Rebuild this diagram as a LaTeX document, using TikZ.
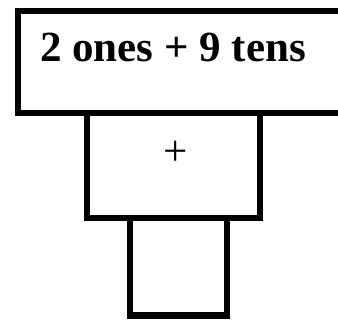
\documentclass[tikz,border=0pt]{standalone}
\usepackage{fontspec}
\setmainfont{Liberation Serif}
\begin{document}
\begin{tikzpicture}[x=1pt,y=1pt,
  boxline/.style={draw=black,line width=6.5pt,fill=white},
  lbl/.style={inner sep=0pt,font=\fontsize{43}{50}\selectfont}]
\useasboundingbox (0,0) rectangle (338,320);
\clip (0,0) rectangle (338,320);
\draw[boxline] (18,{320-113}) rectangle (350,{320-11});
\draw[boxline] (87,{320-218}) rectangle (260,{320-113});
\draw[boxline] (130,{320-315.5}) rectangle (227,{320-218});
\node[lbl,anchor=base west,font=\fontsize{43}{50}\selectfont\bfseries] (title) at (40,{320-62}) {2 ones + 9 tens};
\node[lbl] (plus) at (176,{320-153}) {+};
\end{tikzpicture}
\end{document}
